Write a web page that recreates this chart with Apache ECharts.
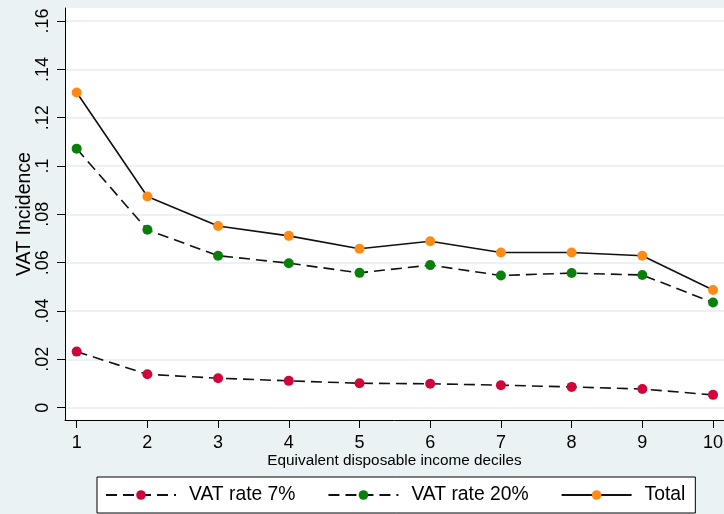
<!DOCTYPE html>
<html>
<head>
<meta charset="utf-8">
<script src="https://cdn.jsdelivr.net/npm/echarts@6/dist/echarts.min.js"></script>
<style>
html,body{margin:0;padding:0;background:#eaf2f3;}
#chart{width:724px;height:514px;}
</style>
</head>
<body>
<div id="chart"></div>
<script>
const deciles = [1, 2, 3, 4, 5, 6, 7, 8, 9, 10];
const vat7 = [0.0232, 0.0138, 0.0122, 0.0111, 0.0101, 0.0099, 0.0093, 0.0086, 0.0077, 0.0053];
const vat20 = [0.1072, 0.0736, 0.0629, 0.0598, 0.0558, 0.0590, 0.0547, 0.0557, 0.0549, 0.0435];
const total = [0.1304, 0.0874, 0.0752, 0.0711, 0.0658, 0.0689, 0.0642, 0.0642, 0.0629, 0.0487];
const yTicks = [0, 0.02, 0.04, 0.06, 0.08, 0.10, 0.12, 0.14, 0.16];
const seriesNames = ['VAT rate 7%', 'VAT rate 20%', 'Total'];

const pair = arr => deciles.map((d, i) => [d, arr[i]]);
const fmtY = v => {
  const s = String(Number(v.toFixed(2)));
  return s === '0' ? '0' : s.replace(/^0\./, '.');
};
const FONT = 'Liberation Sans, Arial, sans-serif';

const chart = echarts.init(document.getElementById('chart'));
chart.setOption({
  backgroundColor: '#eaf2f3',
  animation: false,
  textStyle: { fontFamily: FONT },
  grid: { left: 65, top: 8, right: 0, bottom: 94, outerBoundsMode: 'none', containLabel: false, show: true, backgroundColor: '#ffffff', borderWidth: 0 },
  xAxis: {
    type: 'value',
    min: 0.835, max: 10.155,
    name: 'Equivalent disposable income deciles',
    nameLocation: 'middle', nameGap: 33, nameMoveOverlap: false,
    nameTextStyle: { fontSize: 15.3, color: '#000', fontFamily: FONT },
    axisLine: { show: true, onZero: false, lineStyle: { color: '#000', width: 1 } },
    axisTick: { show: true, length: 8, customValues: deciles, lineStyle: { color: '#000' } },
    axisLabel: { customValues: deciles, fontSize: 18, color: '#000', margin: 14, fontFamily: FONT },
    splitLine: { show: false }
  },
  yAxis: {
    type: 'value',
    min: -0.0051, max: 0.1654,
    name: 'VAT Incidence',
    nameLocation: 'middle', nameGap: 30, nameMoveOverlap: false,
    nameTextStyle: { fontSize: 19.5, color: '#000', fontFamily: FONT },
    axisLine: { show: true, onZero: false, lineStyle: { color: '#000', width: 1 } },
    axisTick: { show: true, length: 8, customValues: yTicks, lineStyle: { color: '#000' } },
    axisLabel: { customValues: yTicks, rotate: 90, fontSize: 18, color: '#000', margin: 13, formatter: fmtY, fontFamily: FONT },
    splitLine: { show: true, lineStyle: { color: '#e4eef0', width: 1.5 } }
  },
  legend: {
    left: 97, top: 477,
    padding: [7, 10, 7, 8],
    itemWidth: 70, itemHeight: 12, itemGap: 32,
    borderColor: '#000', borderWidth: 1, backgroundColor: '#ffffff', borderRadius: 0,
    textStyle: { fontSize: 19.3, color: '#000', padding: [0, 0, 0, 8], lineHeight: 22, fontFamily: FONT },
    data: seriesNames
  },
  series: [
    {
      name: seriesNames[0], type: 'line', data: pair(vat7),
      symbol: 'circle', symbolSize: 10,
      itemStyle: { color: '#d0063a' },
      lineStyle: { color: '#111', width: 1.6, type: [11, 6] }
    },
    {
      name: seriesNames[1], type: 'line', data: pair(vat20),
      symbol: 'circle', symbolSize: 10,
      itemStyle: { color: '#0a800a' },
      lineStyle: { color: '#111', width: 1.6, type: [11, 6] }
    },
    {
      name: seriesNames[2], type: 'line', data: pair(total),
      symbol: 'circle', symbolSize: 10,
      itemStyle: { color: '#ff8a16' },
      lineStyle: { color: '#111', width: 1.6, type: 'solid' }
    }
  ]
});
</script>
</body>
</html>
